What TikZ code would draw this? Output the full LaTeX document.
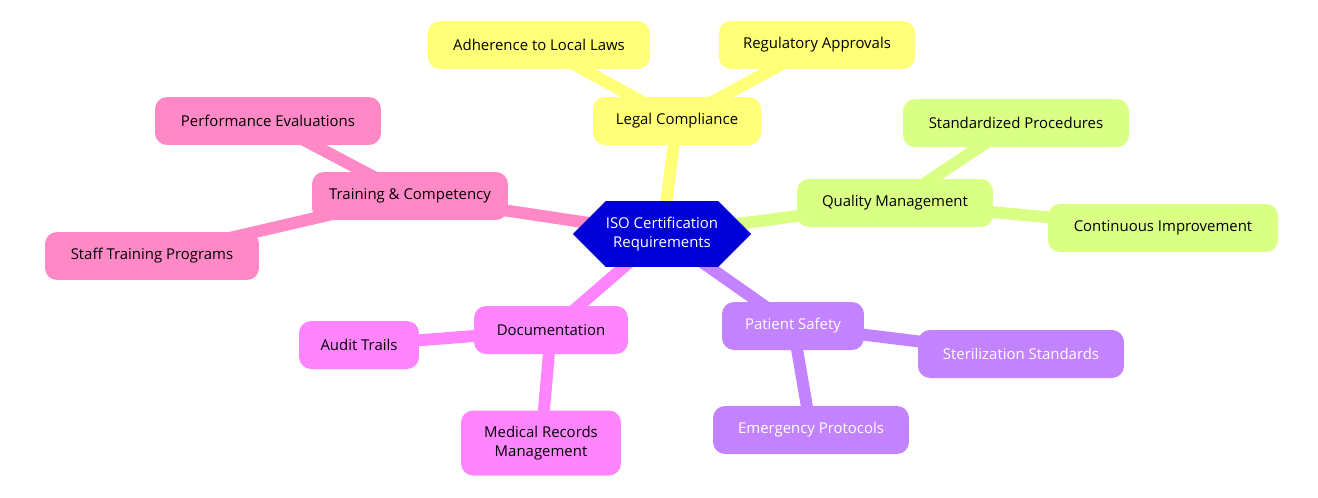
\documentclass[tikz,border=0pt]{standalone}
\usepackage{fontspec}
\setmainfont{Open Sans}
\usetikzlibrary{shapes.symbols, backgrounds}

\definecolor{rootblue}{HTML}{0000D6}
\definecolor{legalyel}{HTML}{FFFF78}
\definecolor{qualgrn}{HTML}{DAFF85}
\definecolor{safepur}{HTML}{C383FF}
\definecolor{docmag}{HTML}{FF85FF}
\definecolor{trainpink}{HTML}{FF88C6}

\begin{document}
\begin{tikzpicture}[x=0.02cm, y=-0.02cm,
  every node/.style={font=\fontsize{8.5}{10.5}\selectfont, align=center, inner sep=0pt},
  %
  leaf/.style={rectangle, rounded corners=0.24cm, minimum height=0.96cm},
  %
  root/.style={signal, signal to=west and east, fill=rootblue, text=white,
    minimum width=3.4cm, minimum height=1.32cm},
  %
  link/.style={line width=6.8pt}
  ]
  \useasboundingbox (0,0) rectangle (1318,497);

  \node [root] (iso) at (662,234) {ISO Certification\\Requirements};

  % legal
  \node [leaf, fill=legalyel, minimum width=3.36cm] (legal) at (677,121) {Legal Compliance};
  \node [leaf, fill=legalyel, minimum width=4.44cm] (laws) at (539,45) {Adherence to Local Laws};
  \node [leaf, fill=legalyel, minimum width=3.92cm] (approv) at (817,45) {Regulatory Approvals};

  % quality
  \node [leaf, fill=qualgrn, minimum width=3.92cm] (quality) at (895,203) {Quality Management};
  \node [leaf, fill=qualgrn, minimum width=4.52cm] (stdproc) at (1016,123) {Standardized Procedures};
  \node [leaf, fill=qualgrn, minimum width=4.6cm] (contimp) at (1163,228) {Continuous Improvement};

  % safety
  \node [leaf, fill=safepur, text=white, minimum width=2.84cm] (safety) at (793,326) {Patient Safety};
  \node [leaf, fill=safepur, text=white, minimum width=4.12cm] (steril) at (1021,354) {Sterilization Standards};
  \node [leaf, fill=safepur, text=white, minimum width=3.92cm] (emerg) at (811,430) {Emergency Protocols};

  % documentation
  \node [leaf, fill=docmag, minimum width=3.08cm] (docs) at (551,330) {Documentation};
  \node [leaf, fill=docmag, minimum width=2.4cm] (audit) at (359,345) {Audit Trails};
  \node [leaf, fill=docmag, minimum width=3.2cm, minimum height=1.3cm] (medrec) at (541,443) {Medical Records\\Management};

  % training
  \node [leaf, fill=trainpink, minimum width=3.92cm] (training) at (410,196) {Training \& Competency};
  \node [leaf, fill=trainpink, minimum width=4.52cm] (perfev) at (268,121) {Performance Evaluations};
  \node [leaf, fill=trainpink, minimum width=4.28cm] (staff) at (152,256) {Staff Training Programs};

  \begin{pgfonlayer}{background}
    \draw [link, legalyel] (iso.center) -- (legal.center);
    \draw [link, legalyel] (legal.center) -- (laws.center);
    \draw [link, legalyel] (legal.center) -- (approv.center);
    \draw [link, qualgrn] (iso.center) -- (quality.center);
    \draw [link, qualgrn] (quality.center) -- (stdproc.center);
    \draw [link, qualgrn] (quality.center) -- (contimp.center);
    \draw [link, safepur] (iso.center) -- (safety.center);
    \draw [link, safepur] (safety.center) -- (steril.center);
    \draw [link, safepur] (safety.center) -- (emerg.center);
    \draw [link, docmag] (iso.center) -- (docs.center);
    \draw [link, docmag] (docs.center) -- (audit.center);
    \draw [link, docmag] (docs.center) -- (medrec.center);
    \draw [link, trainpink] (iso.center) -- (training.center);
    \draw [link, trainpink] (training.center) -- (perfev.center);
    \draw [link, trainpink] (training.center) -- (staff.center);
  \end{pgfonlayer}
\end{tikzpicture}
\end{document}
